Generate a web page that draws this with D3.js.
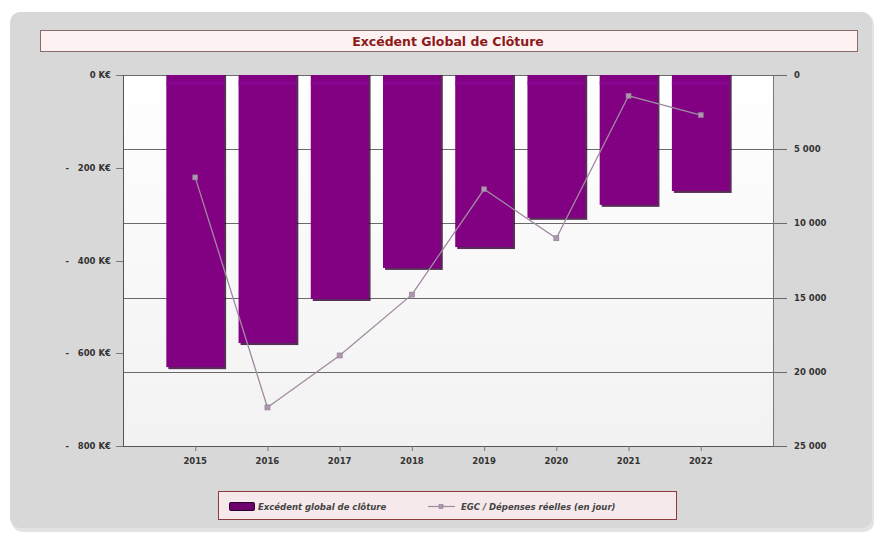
<!DOCTYPE html>
<html>
<head>
<meta charset="utf-8">
<script src="https://cdn.jsdelivr.net/npm/d3@7.9.0/dist/d3.min.js"></script>
<style>
  body { margin: 0; background: #fff; }
  svg { display: block; font-family: "DejaVu Sans", Verdana, sans-serif; }
</style>
</head>
<body>
<svg id="chart" width="878" height="537"></svg>
<script>
// ---------------- données ----------------
const years = ["2015", "2016", "2017", "2018", "2019", "2020", "2021", "2022"];
const excedent = [-630, -578, -483, -416, -371, -308, -280, -250];        // K€
const egcJours = [6900, 22400, 18900, 14800, 7700, 11000, 1400, 2700];    // jours
const leftTicks = [0, -200, -400, -600, -800];
const rightTicks = [0, 5000, 10000, 15000, 20000, 25000];

const svg = d3.select("#chart");
const plot = { left: 123, right: 773, top: 75, bottom: 446 };

const defs = svg.append("defs");
const grad = defs.append("linearGradient").attr("id", "bg").attr("x1", 0).attr("y1", 0).attr("x2", 0).attr("y2", 1);
grad.append("stop").attr("offset", "0%").attr("stop-color", "#ffffff");
grad.append("stop").attr("offset", "100%").attr("stop-color", "#f2f2f2");

// panneau gris
svg.append("rect").attr("x", 12).attr("y", 14).attr("width", 862).attr("height", 518)
  .attr("rx", 10).attr("fill", "#c8c8c8").attr("opacity", 0.5);
svg.append("rect").attr("x", 10).attr("y", 12).attr("width", 862).attr("height", 516)
  .attr("rx", 10).attr("fill", "#d8d8d8");

// titre
svg.append("rect").attr("x", 40.5).attr("y", 30.5).attr("width", 817).attr("height", 21)
  .attr("fill", "#fdf1f2").attr("stroke", "#8c6a6a").attr("stroke-width", 1);
svg.append("text").attr("x", 448).attr("y", 45.5).attr("text-anchor", "middle")
  .attr("font-size", "12.5px").attr("font-weight", "bold").attr("fill", "#8b1a1a")
  .text("Excédent Global de Clôture");

// échelles
const x = d3.scalePoint().domain(years).range([plot.left, plot.right]).padding(1);
const yL = d3.scaleLinear().domain([0, -800]).range([plot.top, plot.bottom]);
const yR = d3.scaleLinear().domain([0, 25000]).range([plot.top, plot.bottom]);
const barW = x.step() * 0.8;

// fond du graphique
svg.append("rect").attr("x", plot.left).attr("y", plot.top)
  .attr("width", plot.right - plot.left).attr("height", plot.bottom - plot.top)
  .attr("fill", "url(#bg)");

// grille (axe droit)
svg.append("g").selectAll("line").data(rightTicks).join("line")
  .attr("x1", plot.left).attr("x2", plot.right + 14)
  .attr("y1", d => Math.round(yR(d)) + 0.5).attr("y2", d => Math.round(yR(d)) + 0.5)
  .attr("stroke", "#6a6a6a").attr("stroke-width", 1);

// barres
const bars = svg.append("g");
bars.selectAll("rect.shadow").data(years).join("rect")
  .attr("class", "shadow")
  .attr("x", d => x(d) - barW / 2 + 2).attr("y", yL(0))
  .attr("width", barW).attr("height", (d, i) => yL(excedent[i]) - yL(0) + 2)
  .attr("fill", "#3a0a3a").attr("opacity", 0.85);
bars.selectAll("rect.bar").data(years).join("rect")
  .attr("class", "bar")
  .attr("x", d => x(d) - barW / 2).attr("y", yL(0))
  .attr("width", barW).attr("height", (d, i) => yL(excedent[i]) - yL(0))
  .attr("fill", "#820082");
bars.selectAll("rect.hl").data(years).join("rect")
  .attr("class", "hl")
  .attr("x", d => x(d) - barW / 2).attr("y", yL(0) + 6)
  .attr("width", barW).attr("height", 4)
  .attr("fill", "#8a0a9a").attr("opacity", 0.6);

// axes
svg.append("line").attr("x1", plot.left + 0.5).attr("x2", plot.left + 0.5)
  .attr("y1", plot.top).attr("y2", plot.bottom).attr("stroke", "#555");
svg.append("line").attr("x1", plot.right + 0.5).attr("x2", plot.right + 0.5)
  .attr("y1", plot.top).attr("y2", plot.bottom).attr("stroke", "#777");
svg.append("line").attr("x1", plot.left).attr("x2", plot.right)
  .attr("y1", plot.bottom + 0.5).attr("y2", plot.bottom + 0.5).attr("stroke", "#555");

const left = svg.append("g");
left.selectAll("line").data(leftTicks).join("line")
  .attr("x1", plot.left - 7).attr("x2", plot.left)
  .attr("y1", d => Math.round(yL(d)) + 0.5).attr("y2", d => Math.round(yL(d)) + 0.5)
  .attr("stroke", "#777");
left.selectAll("text").data(leftTicks).join("text")
  .attr("x", plot.left - 12).attr("y", d => yL(d) + 3)
  .attr("text-anchor", "end").attr("font-size", "8.5px").attr("font-weight", "bold").attr("fill", "#333")
  .attr("xml:space", "preserve")
  .text(d => d === 0 ? "0 K€" : "-   " + (-d) + " K€");

svg.append("g").selectAll("text").data(rightTicks).join("text")
  .attr("x", plot.right + 21).attr("y", d => yR(d) + 3)
  .attr("font-size", "8.5px").attr("font-weight", "bold").attr("fill", "#333")
  .text(d => d3.format(",")(d).replace(/,/g, " "));

const bottom = svg.append("g");
bottom.selectAll("line").data(years).join("line")
  .attr("x1", d => x(d) + 0.5).attr("x2", d => x(d) + 0.5)
  .attr("y1", plot.bottom).attr("y2", plot.bottom + 5).attr("stroke", "#777");
bottom.selectAll("text").data(years).join("text")
  .attr("x", d => x(d)).attr("y", plot.bottom + 18).attr("text-anchor", "middle")
  .attr("font-size", "8.5px").attr("font-weight", "bold").attr("fill", "#333")
  .text(d => d);

// courbe
const line = d3.line().x((d, i) => x(years[i])).y(d => yR(d));
svg.append("path").datum(egcJours).attr("d", line)
  .attr("fill", "none").attr("stroke", "#a08aa0").attr("stroke-width", 1.3);
svg.append("g").selectAll("rect").data(egcJours).join("rect")
  .attr("x", (d, i) => x(years[i]) - 2.5).attr("y", d => yR(d) - 2.5)
  .attr("width", 5).attr("height", 5)
  .attr("fill", "#b196b1").attr("stroke", "#8a7a8a").attr("stroke-width", 0.6);

// légende
const leg = svg.append("g");
leg.append("rect").attr("x", 218.5).attr("y", 491.5).attr("width", 458).attr("height", 28)
  .attr("fill", "#f6e9eb").attr("stroke", "#8c3a3a").attr("stroke-width", 1);
leg.append("rect").attr("x", 229.5).attr("y", 502.5).attr("width", 25).attr("height", 8)
  .attr("fill", "#6e006e").attr("stroke", "#2a002a").attr("stroke-width", 1).attr("rx", 1);
leg.append("text").attr("x", 258).attr("y", 509.5)
  .attr("font-size", "8.5px").attr("font-weight", "bold").attr("font-style", "italic").attr("fill", "#444")
  .text("Excédent global de clôture");
leg.append("line").attr("x1", 428).attr("x2", 455).attr("y1", 506.5).attr("y2", 506.5)
  .attr("stroke", "#a08aa0").attr("stroke-width", 1.2);
leg.append("rect").attr("x", 439).attr("y", 504.5).attr("width", 4).attr("height", 4)
  .attr("fill", "#b196b1").attr("stroke", "#8a7a8a").attr("stroke-width", 0.6);
leg.append("text").attr("x", 461).attr("y", 509.5)
  .attr("font-size", "8.5px").attr("font-weight", "bold").attr("font-style", "italic").attr("fill", "#444")
  .text("EGC / Dépenses réelles (en jour)");
</script>
</body>
</html>
